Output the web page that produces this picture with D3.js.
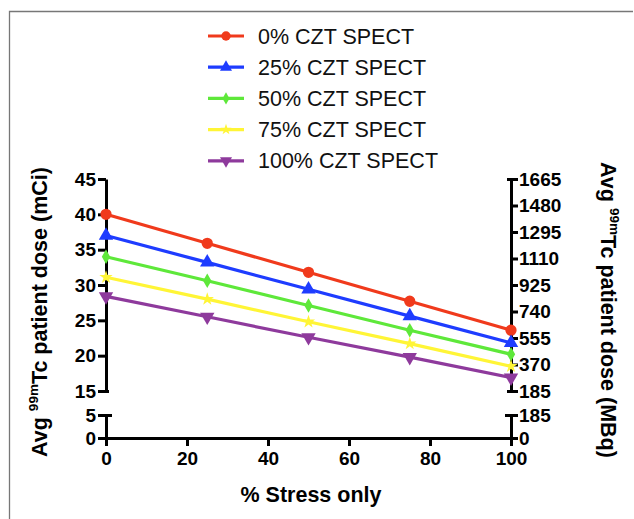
<!DOCTYPE html>
<html>
<head>
<meta charset="utf-8">
<script src="https://cdn.jsdelivr.net/npm/d3@7"></script>
<style>
  body { margin: 0; background: #fff; }
  svg { display: block; font-family: "Liberation Sans", Arial, sans-serif; }
</style>
</head>
<body>
<div id="chart"></div>
<script>
// data
const stressPct = [0, 25, 50, 75, 100];
const seriesNames = ["0% CZT SPECT", "25% CZT SPECT", "50% CZT SPECT", "75% CZT SPECT", "100% CZT SPECT"];
const dose0 = [40, 35.9, 31.8, 27.7, 23.6];
const dose25 = [37, 33.2, 29.4, 25.6, 21.8];
const dose50 = [34, 30.6, 27.1, 23.6, 20.2];
const dose75 = [31.1, 28, 24.8, 21.7, 18.5];
const dose100 = [28.4, 25.5, 22.6, 19.8, 16.9];
const xTicks = [0, 20, 40, 60, 80, 100];
const leftTopTicks = [15, 20, 25, 30, 35, 40, 45];
const leftBotTicks = [0, 5];
const rightTopTicks = [185, 370, 555, 740, 925, 1110, 1295, 1480, 1665];
const rightBotTicks = [0, 185];

const colors = ["#f03a1c", "#1e3cff", "#5ee83a", "#fff536", "#8e3a9c"];
const symbols = [d3.symbolCircle, d3.symbolTriangle, d3.symbolDiamond, d3.symbolStar, d3.symbolTriangle];
const symSizes = [100, 90, 60, 55, 90];
const rotations = [0, 0, 0, 0, 180];
const allSeries = [dose0, dose25, dose50, dose75, dose100];

const W = 634, H = 519;
const svg = d3.select("#chart").append("svg").attr("width", W).attr("height", H);

// frame
svg.append("path")
  .attr("d", "M9.5," + H + "V11.5H633")
  .attr("fill", "none").attr("stroke", "#777").attr("stroke-width", 1.3);

const x = d3.scaleLinear().domain([0, 100]).range([106, 511]);
const yTop = d3.scaleLinear().domain([15, 45]).range([391, 179]);
const yBot = d3.scaleLinear().domain([0, 5]).range([438, 415]);
const yRTop = d3.scaleLinear().domain([185, 1665]).range([391, 179]);
const yRBot = d3.scaleLinear().domain([0, 185]).range([438, 415]);
const fmt = d3.format("d");

function styleAxis(g, fs) {
  g.selectAll(".domain").attr("stroke", "#000").attr("stroke-width", 3);
  g.selectAll(".tick line").attr("stroke", "#000").attr("stroke-width", 3);
  g.selectAll(".tick text").attr("fill", "#000")
    .style("font-size", fs + "px").style("font-weight", "bold");
}

// x axis
const gx = svg.append("g").attr("transform", "translate(0,438)")
  .call(d3.axisBottom(x).tickValues(xTicks).tickFormat(fmt).tickSize(8).tickSizeOuter(0).tickPadding(6));
styleAxis(gx, 19);

// left axis, two segments
const gl1 = svg.append("g").attr("transform", "translate(106,0)")
  .call(d3.axisLeft(yTop).tickValues(leftTopTicks).tickFormat(fmt).tickSize(8).tickSizeOuter(0).tickPadding(2));
styleAxis(gl1, 19);
const gl2 = svg.append("g").attr("transform", "translate(106,0)")
  .call(d3.axisLeft(yBot).tickValues(leftBotTicks).tickFormat(fmt).tickSize(8).tickSizeOuter(0).tickPadding(2));
styleAxis(gl2, 19);
// caps at segment ends
gl1.selectAll(".tick").filter(d => d === 15).select("line").attr("x1", 3);
gl2.selectAll(".tick").filter(d => d === 5).select("line").attr("x1", 6);

// right axis, two segments
const gr1 = svg.append("g").attr("transform", "translate(511,0)")
  .call(d3.axisRight(yRTop).tickValues(rightTopTicks).tickFormat(fmt).tickSize(7).tickSizeOuter(0).tickPadding(1));
styleAxis(gr1, 19);
const gr2 = svg.append("g").attr("transform", "translate(511,0)")
  .call(d3.axisRight(yRBot).tickValues(rightBotTicks).tickFormat(fmt).tickSize(7).tickSizeOuter(0).tickPadding(1));
styleAxis(gr2, 19);
gr1.selectAll(".tick").filter(d => d === 185 || d === 1665).select("line").attr("x1", -4);
gr2.selectAll(".tick").filter(d => d === 185).select("line").attr("x1", -6);

// series
const line = d3.line().x((d, i) => x(stressPct[i])).y(d => yTop(d));
allSeries.forEach((vals, s) => {
  svg.append("path").datum(vals)
    .attr("d", line)
    .attr("fill", "none").attr("stroke", colors[s]).attr("stroke-width", 3.2);
  svg.append("g").selectAll("path").data(vals).join("path")
    .attr("transform", (d, i) => `translate(${x(stressPct[i])},${yTop(d)}) rotate(${rotations[s]})`)
    .attr("d", d3.symbol().type(symbols[s]).size(symSizes[s]))
    .attr("fill", colors[s]);
});

// legend
const legend = svg.append("g");
seriesNames.forEach((name, s) => {
  const ly = 36 + s * 31.2;
  legend.append("line").attr("x1", 208).attr("x2", 244).attr("y1", ly).attr("y2", ly)
    .attr("stroke", colors[s]).attr("stroke-width", 3.2);
  legend.append("path")
    .attr("transform", `translate(226,${ly}) rotate(${rotations[s]})`)
    .attr("d", d3.symbol().type(symbols[s]).size(symSizes[s] * 0.7))
    .attr("fill", colors[s]);
  legend.append("text").attr("x", 258).attr("y", ly + 7.5)
    .style("font-size", "21.5px").attr("fill", "#111").text(name);
});

// axis titles
svg.append("text").attr("x", 311).attr("y", 502).attr("text-anchor", "middle")
  .style("font-size", "21.5px").style("font-weight", "bold").text("% Stress only");

function doseTitle(tx, ty, rot, unit) {
  const t = svg.append("text")
    .attr("transform", `translate(${tx},${ty}) rotate(${rot})`)
    .attr("text-anchor", "middle")
    .style("font-size", "21.5px").style("font-weight", "bold");
  t.append("tspan").text("Avg ");
  t.append("tspan").attr("dy", -9).style("font-size", "13.5px").text("99m");
  t.append("tspan").attr("dy", 9).text("Tc patient dose (" + unit + ")");
}
doseTitle(47, 312, -90, "mCi");
doseTitle(601, 310, 90, "MBq");
</script>
</body>
</html>
